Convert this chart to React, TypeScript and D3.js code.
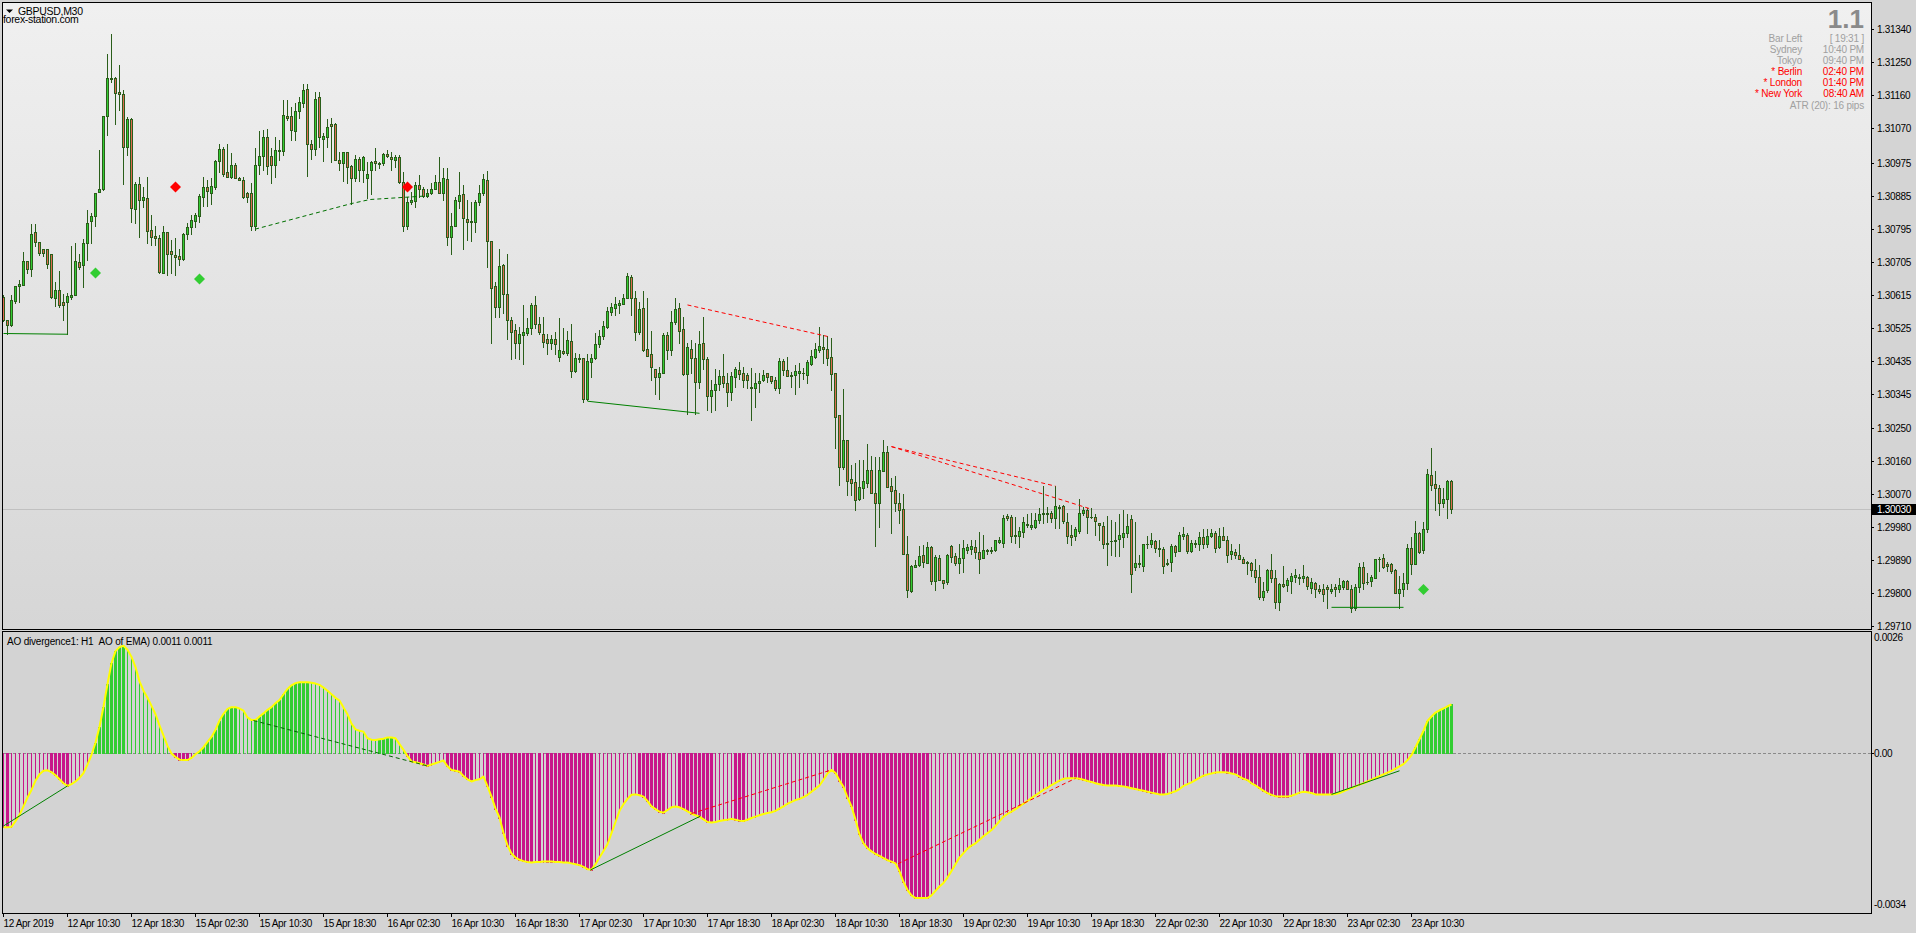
import React from "react";
import * as d3 from "d3";

// Candle values are pips above BASE_PRICE (price = BASE_PRICE + pips / 10000)
const BASE_PRICE = 1.3;

const openPips = [
  60.9,54.7,53.3,59.8,63.8,64.2,70.7,68.6,78.6,76.0,
  73.9,73.9,72.6,60.7,62.9,59.6,59.6,60.9,61.3,70.3,
  69.5,75.5,81.5,83.1,89.6,90.4,110.2,120.6,120.6,116.9,
  116.2,101.9,109.5,85.0,91.7,87.5,87.8,79.3,77.5,76.9,
  67.5,78.6,73.4,72.3,72.2,71.3,78.0,80.0,81.7,83.1,
  88.2,90.8,89.4,91.0,98.0,101.3,94.9,93.7,96.8,93.5,
  92.7,89.3,89.2,80.4,96.8,99.5,104.5,99.4,96.8,101.0,
  100.8,110.2,110.3,106.3,111.6,114.0,117.6,102.8,101.4,115.4,
  104.1,104.5,108.2,108.0,98.3,97.4,100.4,96.6,93.3,98.6,
  95.7,93.5,95.7,98.1,97.6,97.4,99.8,99.2,98.3,99.2,
  92.3,80.4,86.7,87.2,91.6,90.3,88.4,89.3,90.4,92.4,
  89.2,93.0,77.3,80.3,87.2,88.9,82.3,81.7,81.4,86.7,
  89.3,92.8,76.3,63.8,58.2,69.6,61.6,54.7,51.8,48.2,
  50.6,51.1,52.5,58.6,53.4,50.9,49.3,48.3,49.3,44.5,
  46.1,45.6,48.8,40.7,44.2,44.1,32.9,43.2,44.1,47.9,
  50.2,52.7,56.8,58.0,58.8,59.0,60.7,66.2,60.7,51.2,
  58.0,46.8,45.2,41.3,38.9,40.0,50.6,46.3,54.1,58.0,
  52.0,39.8,46.8,44.3,37.7,48.2,43.8,33.9,35.6,37.0,
  39.2,37.5,35.0,39.1,40.8,40.0,39.6,36.4,36.1,37.3,
  38.2,40.0,39.3,38.2,35.9,43.4,40.8,39.6,39.6,40.0,
  40.0,39.6,42.6,44.6,46.4,47.1,46.8,44.4,40.0,28.6,
  14.3,21.7,11.1,10.2,5.7,8.8,10.1,13.6,7.2,4.7,
  13.4,18.5,9.2,8.1,4.5,2.9,-9.2,-19.5,-12.8,-12.4,
  -9.6,-11.7,-7.5,-16.6,-10.3,-16.5,-16.9,-7.1,-9.9,-11.7,
  -10.5,-8.3,-8.1,-7.5,-8.7,-10.5,-8.5,-8.3,-8.3,-6.0,
  -6.4,1.0,0.8,-4.2,-4.5,-3.3,-1.2,-1.9,-1.9,-0.1,
  1.8,1.8,1.8,0.6,3.4,3.8,-0.5,-4.2,-4.5,-3.0,
  1.9,2.6,0.8,0.7,-1.0,-1.6,-6.2,-5.9,-5.7,-5.2,
  -4.6,-3.5,0.1,-12.9,-12.1,-12.6,-6.7,-6.7,-5.7,-7.6,
  -8.1,-11.7,-11.5,-7.2,-8.5,-4.3,-4.2,-8.5,-6.5,-6.5,
  -4.6,-6.7,-4.5,-3.5,-7.4,-4.3,-5.4,-9.4,-8.8,-9.5,
  -10.6,-11.5,-11.7,-13.6,-15.6,-21.0,-19.2,-13.6,-15.8,-22.4,
  -17.4,-17.7,-16.6,-15.6,-15.6,-15.8,-15.6,-18.6,-17.2,-18.8,
  -18.9,-18.3,-19.4,-18.3,-18.9,-18.3,-16.7,-18.8,-24.0,-18.3,
  -13.0,-16.9,-16.8,-15.9,-10.8,-10.3,-12.2,-12.2,-13.8,-20.0,
  -18.9,-17.2,-7.8,-12.0,-3.7,-8.3,-2.4,12.2,9.7,8.8,
  4.5,5.8,10.7,
];

const highPips = [
  61.5,54.7,61.4,64.0,65.5,73.1,70.7,80.8,80.8,76.0,
  74.0,73.9,72.6,65.0,67.9,61.8,62.0,74.8,75.7,72.6,
  76.6,84.6,83.9,89.4,101.0,110.2,127.2,132.7,121.0,124.3,
  117.4,110.1,109.9,92.3,93.7,91.0,93.7,83.2,80.2,77.8,
  80.4,78.6,76.4,77.1,74.0,78.4,81.0,83.2,83.8,89.0,
  93.7,92.8,93.3,98.3,102.8,101.9,102.6,100.1,97.4,93.7,
  93.7,89.6,91.9,101.5,106.3,106.5,106.8,101.7,104.6,103.7,
  114.7,114.7,112.8,113.8,115.6,119.0,119.0,103.7,116.9,116.9,
  105.6,109.4,109.7,108.3,100.5,100.5,100.5,96.9,99.6,99.2,
  99.4,97.8,98.1,101.5,97.8,100.1,101.0,100.5,99.6,99.6,
  94.9,88.2,89.6,92.3,94.2,91.0,90.5,91.9,94.2,99.2,
  96.0,96.0,83.7,88.1,94.9,91.4,87.5,86.9,87.5,91.4,
  94.6,95.3,76.3,65.0,73.9,70.0,72.6,55.5,53.6,52.7,
  58.6,55.0,59.3,61.1,55.5,55.5,50.9,50.4,51.4,55.0,
  52.5,51.6,53.6,45.6,45.4,44.1,45.4,45.4,51.1,51.8,
  54.3,58.2,59.1,60.9,60.0,61.8,67.3,66.8,62.6,59.6,
  62.6,60.7,51.6,41.3,41.8,51.1,51.4,57.1,60.5,59.1,
  55.5,48.3,49.1,48.2,51.6,55.3,44.5,38.1,41.3,40.9,
  45.2,40.0,40.4,41.8,43.2,41.8,40.0,41.4,40.2,40.2,
  40.9,40.2,39.3,38.9,44.1,43.9,44.6,40.5,42.3,42.8,
  41.4,43.7,46.4,48.2,52.8,50.5,50.2,49.6,40.0,28.6,
  35.7,21.7,15.0,15.4,16.3,16.3,20.7,17.4,17.2,17.2,
  21.8,20.1,11.3,11.9,7.2,7.0,-4.4,-12.4,-11.0,-7.2,
  -6.9,-6.0,-7.2,-9.6,-9.6,-16.3,-9.2,-6.9,-9.0,-6.6,
  -5.5,-6.7,-5.5,-5.5,-3.3,-4.2,-8.1,-7.4,-5.4,-4.6,
  1.3,1.6,1.3,0.8,-1.9,0.8,1.7,1.9,2.0,3.1,
  9.2,3.6,2.5,9.2,4.0,4.0,1.8,-1.5,-1.9,5.8,
  3.6,3.1,3.1,1.5,-1.0,-0.6,1.0,-0.1,-0.6,1.5,
  2.6,1.7,1.3,-0.6,-9.7,-6.5,-4.5,-3.7,-5.6,-5.4,
  -7.4,-10.8,-6.5,-6.9,-3.3,-1.9,-3.7,-5.6,-5.6,-3.3,
  -2.4,-2.4,-2.6,-3.0,-2.2,-1.9,-4.5,-6.5,-8.1,-6.5,
  -10.1,-11.2,-11.5,-10.8,-12.4,-16.9,-13.3,-9.2,-13.8,-17.2,
  -12.7,-15.9,-14.5,-13.3,-14.9,-12.4,-15.4,-16.0,-16.9,-17.9,
  -17.4,-17.9,-17.6,-17.6,-16.0,-16.3,-16.3,-17.9,-17.4,-11.9,
  -11.5,-14.5,-15.1,-10.6,-10.1,-9.4,-11.5,-11.9,-13.5,-15.4,
  -14.5,-6.5,-4.6,-0.4,-3.3,-0.6,14.0,19.5,13.3,9.5,
  8.8,11.0,11.0,
];

const lowPips = [
  54.2,50.7,53.0,59.3,59.6,64.2,67.5,66.7,74.8,72.4,
  72.2,68.8,60.6,58.4,58.2,54.7,50.7,60.2,61.3,68.6,
  63.5,70.9,75.5,80.4,89.6,90.1,105.1,119.7,108.0,111.9,
  91.8,99.6,81.4,81.1,77.3,85.5,75.5,75.0,75.0,67.3,
  67.3,67.0,67.3,66.9,69.7,71.1,76.6,78.2,80.0,81.4,
  85.7,85.7,86.4,90.4,95.1,93.9,93.7,93.3,93.3,92.7,
  87.8,86.9,79.1,79.1,94.6,95.5,94.6,91.9,93.7,98.3,
  99.6,109.2,103.7,103.7,109.9,112.8,94.0,98.6,99.6,101.9,
  97.9,101.9,97.8,98.3,95.5,92.5,91.9,86.4,92.6,92.6,
  92.3,87.8,89.0,95.7,96.0,96.9,99.0,95.5,96.4,92.1,
  79.0,79.5,86.4,85.5,88.2,88.2,88.2,89.0,90.4,89.3,
  87.3,75.0,72.6,80.3,85.1,74.1,76.4,76.2,78.7,86.0,
  88.7,69.1,48.3,55.5,55.3,56.4,49.3,43.8,44.1,43.8,
  42.7,50.4,50.9,52.3,50.9,47.3,45.4,46.8,45.4,43.4,
  45.4,45.0,39.1,40.4,43.2,32.2,32.7,38.9,43.8,47.3,
  49.5,52.3,55.9,55.9,56.5,58.9,60.5,55.9,49.1,50.9,
  46.1,44.7,38.3,34.5,32.9,40.0,43.8,45.0,53.4,48.3,
  39.5,29.0,40.0,29.0,35.9,41.3,29.9,29.5,29.9,35.4,
  36.3,31.0,32.7,36.4,38.6,36.4,36.1,27.4,30.7,35.0,
  38.0,37.7,37.3,35.5,34.7,39.6,39.3,36.2,34.5,36.4,
  38.6,37.3,42.3,44.1,45.9,42.8,42.3,35.5,19.7,9.5,
  14.0,6.8,6.8,2.7,5.4,5.9,9.0,7.2,-7.2,-1.9,
  13.4,9.0,-3.5,2.5,-1.0,-9.3,-21.0,-19.6,-13.0,-12.6,
  -12.8,-11.9,-17.4,-19.2,-16.5,-18.7,-17.4,-11.4,-12.4,-14.5,
  -14.2,-9.0,-9.2,-10.5,-14.5,-10.5,-9.2,-9.0,-8.5,-6.4,
  -7.5,-0.1,-6.0,-6.4,-7.4,-4.6,-1.9,-2.6,-2.3,-1.0,
  -0.8,-0.5,-0.5,-2.3,-2.3,-0.8,-6.4,-6.9,-5.5,-3.7,
  1.3,-3.7,0.4,-4.2,-5.4,-7.7,-12.4,-9.7,-9.9,-9.9,
  -7.4,-4.7,-19.7,-13.7,-12.9,-13.9,-7.8,-7.4,-8.8,-9.9,
  -14.5,-12.4,-13.9,-9.9,-8.5,-5.1,-9.0,-8.8,-7.4,-8.3,
  -7.8,-7.4,-4.7,-8.8,-7.8,-5.6,-11.5,-10.6,-10.3,-10.8,
  -11.8,-14.7,-15.4,-16.9,-21.5,-22.0,-19.7,-16.9,-24.0,-24.5,
  -18.3,-19.4,-20.0,-16.9,-17.6,-16.9,-18.8,-20.0,-21.0,-20.0,
  -22.1,-24.0,-20.1,-20.9,-19.7,-18.8,-18.8,-25.1,-24.5,-19.7,
  -18.8,-17.4,-18.1,-15.9,-13.9,-13.1,-13.9,-14.5,-20.1,-24.0,
  -20.9,-19.0,-14.7,-12.1,-9.0,-9.0,-3.3,8.1,2.6,1.3,
  3.5,0.5,1.9,
];

const closePips = [
  54.5,53.1,60.0,64.0,64.4,70.7,68.6,78.2,76.0,72.9,
  72.9,70.0,60.9,62.9,58.7,58.7,61.1,61.4,70.7,69.1,
  75.5,81.2,83.1,89.4,90.5,110.2,120.6,120.3,116.7,116.2,
  101.9,109.5,85.2,91.7,87.3,88.1,79.0,77.3,77.1,67.7,
  78.6,72.5,72.5,71.9,71.3,78.0,80.0,81.8,83.3,88.4,
  90.8,89.7,91.2,98.0,101.3,94.6,93.7,96.8,93.4,92.7,
  88.2,88.1,80.4,96.8,99.5,104.5,96.7,96.8,100.9,100.8,
  110.5,109.9,106.5,111.6,114.2,117.4,102.8,101.4,114.9,104.5,
  104.8,107.4,107.6,98.3,97.4,100.4,96.5,93.3,98.5,95.7,
  99.2,94.6,97.8,97.4,97.1,99.8,99.4,98.5,99.2,92.3,
  80.4,86.9,87.3,91.6,90.3,88.4,89.4,90.5,92.4,89.4,
  93.3,77.3,80.4,87.5,88.7,82.5,81.4,81.4,86.7,89.3,
  93.0,76.2,63.2,58.2,69.3,61.6,54.5,51.4,48.3,50.9,
  51.4,52.5,58.6,53.4,51.2,48.6,48.3,49.3,48.0,46.3,
  45.7,49.1,40.7,44.3,44.0,32.9,43.3,44.2,47.9,50.2,
  52.9,57.1,58.1,58.9,59.2,60.7,66.6,60.7,51.2,57.7,
  46.3,44.8,41.8,38.9,40.2,50.6,46.3,54.0,57.6,51.6,
  39.8,47.1,44.3,37.7,47.9,43.8,33.9,35.6,37.0,39.2,
  37.4,35.0,39.2,41.2,39.8,38.2,38.2,35.9,37.3,37.9,
  39.6,38.9,38.0,35.9,43.4,40.8,39.4,39.4,40.7,40.7,
  40.2,43.0,44.8,46.6,47.5,46.8,44.3,39.9,28.0,14.5,
  21.7,10.7,10.0,5.4,8.9,10.6,13.6,7.4,4.7,13.6,
  18.5,9.0,7.9,4.5,2.7,-9.2,-19.2,-12.6,-12.4,-9.9,
  -11.4,-7.5,-16.6,-10.1,-16.3,-17.2,-9.6,-10.1,-11.7,-10.5,
  -7.8,-7.4,-7.2,-8.7,-10.8,-8.3,-8.3,-8.4,-5.5,-5.5,
  0.4,0.4,-4.5,-4.3,-3.0,-0.5,-1.3,-1.3,-0.1,1.5,
  1.7,1.7,0.6,3.8,3.3,-0.3,-4.3,-4.6,-2.4,2.0,
  2.6,0.8,0.7,-0.2,-1.3,-6.5,-6.5,-5.7,-5.4,-4.2,
  -3.5,-1.6,-14.7,-11.9,-11.9,-6.5,-6.5,-5.6,-7.7,-8.1,
  -12.5,-12.1,-7.2,-8.8,-4.2,-4.0,-8.5,-6.3,-6.2,-4.6,
  -6.7,-4.5,-3.5,-7.7,-4.3,-5.5,-9.5,-8.4,-9.5,-10.6,
  -11.7,-11.7,-13.6,-15.6,-21.0,-19.4,-13.6,-15.8,-22.4,-17.4,
  -18.0,-16.3,-15.4,-15.2,-15.8,-15.4,-18.1,-17.1,-19.0,-19.5,
  -20.3,-19.0,-18.8,-18.9,-17.7,-16.7,-18.8,-24.0,-18.3,-13.0,
  -17.2,-17.0,-15.6,-10.8,-10.7,-12.9,-12.5,-13.9,-20.0,-18.8,
  -17.2,-7.6,-12.0,-3.7,-8.7,-2.4,12.4,9.4,8.8,4.5,
  5.8,10.7,3.0,
];

// AO (of EMA) histogram values, in units of 0.0001
const aoValues = [
  -16.7,-16.7,-16.6,-15.3,-13.9,-12.0,-10.0,-8.3,-6.2,-4.8,
  -4.0,-3.9,-4.3,-5.0,-5.9,-6.8,-7.4,-7.0,-6.4,-5.6,
  -4.5,-2.6,-0.4,2.3,5.9,10.4,15.5,20.2,22.9,23.8,
  24.1,23.2,21.6,19.3,16.1,14.0,12.4,10.6,8.7,6.2,
  3.9,1.6,-0.1,-0.9,-1.5,-1.6,-1.6,-1.1,-0.3,0.4,
  1.3,2.5,3.6,5.2,7.3,8.8,9.9,10.3,10.3,10.0,
  9.5,8.0,7.4,7.4,8.2,8.9,9.7,10.3,11.2,11.9,
  13.2,14.4,15.2,15.7,15.9,15.9,15.9,15.8,15.6,15.3,
  14.7,14.0,13.2,12.4,11.8,10.2,8.7,6.6,5.3,5.0,
  4.8,3.3,3.0,2.9,3.1,3.2,3.5,3.5,3.3,2.0,
  0.7,-0.7,-1.9,-2.1,-2.3,-2.6,-2.9,-2.6,-2.3,-2.0,
  -1.7,-3.0,-3.8,-4.0,-4.2,-5.2,-5.9,-6.4,-6.1,-5.9,
  -5.3,-7.5,-9.8,-12.5,-14.5,-18.0,-20.8,-22.6,-23.5,-24.0,
  -24.3,-24.5,-24.6,-24.5,-24.5,-24.4,-24.4,-24.4,-24.5,-24.5,
  -24.6,-24.6,-24.8,-25.0,-25.2,-25.6,-26.1,-26.2,-25.0,-23.5,
  -22.0,-20.5,-18.0,-15.5,-13.0,-11.5,-10.3,-9.4,-9.3,-9.5,
  -9.8,-10.8,-12.0,-12.6,-13.2,-13.4,-12.8,-12.2,-12.0,-12.2,
  -12.6,-13.1,-13.6,-14.0,-14.3,-14.9,-15.5,-15.6,-15.5,-15.3,
  -15.1,-15.0,-14.8,-15.0,-15.2,-15.3,-15.0,-14.6,-14.3,-14.0,
  -13.7,-13.5,-13.3,-13.0,-12.5,-12.0,-11.4,-11.0,-10.6,-10.3,
  -9.9,-9.4,-8.7,-8.0,-7.3,-6.0,-4.6,-3.8,-4.5,-6.2,
  -7.6,-10.0,-12.0,-15.0,-18.3,-20.3,-21.4,-22.1,-22.7,-23.1,
  -23.6,-24.1,-24.4,-24.8,-26.6,-29.0,-30.8,-32.0,-32.6,-32.6,
  -32.6,-32.6,-32.0,-31.0,-30.0,-29.2,-28.0,-26.5,-25.0,-23.5,
  -22.5,-21.5,-20.8,-20.3,-19.5,-18.7,-18.0,-17.3,-16.4,-15.3,
  -14.3,-13.7,-13.2,-12.6,-12.0,-11.4,-10.8,-10.1,-9.5,-8.9,
  -8.3,-7.8,-7.2,-6.7,-6.2,-5.8,-5.7,-5.7,-5.7,-5.8,
  -6.0,-6.3,-6.5,-6.8,-7.0,-7.2,-7.3,-7.3,-7.3,-7.4,
  -7.5,-7.7,-7.9,-8.1,-8.3,-8.5,-8.7,-8.9,-9.1,-9.3,
  -9.3,-9.2,-8.9,-8.6,-8.1,-7.4,-7.0,-6.6,-6.1,-5.6,
  -5.1,-4.8,-4.6,-4.4,-4.3,-4.3,-4.4,-4.6,-4.8,-5.3,
  -5.8,-6.1,-6.8,-7.3,-7.9,-8.5,-9.0,-9.4,-9.7,-9.8,
  -9.8,-9.8,-9.6,-9.3,-8.9,-8.7,-8.8,-9.0,-9.3,-9.3,
  -9.3,-9.3,-9.3,-9.2,-9.0,-8.6,-8.2,-7.9,-7.5,-7.1,
  -6.8,-6.4,-6.0,-5.6,-5.2,-4.8,-4.4,-4.0,-3.5,-3.0,
  -2.5,-1.6,-0.5,1.3,3.1,5.0,7.2,8.2,9.1,9.6,
  10.0,10.5,10.9,
];

const timeLabels = [
  "12 Apr 2019","12 Apr 10:30","12 Apr 18:30","15 Apr 02:30","15 Apr 10:30","15 Apr 18:30",
  "16 Apr 02:30","16 Apr 10:30","16 Apr 18:30","17 Apr 02:30","17 Apr 10:30","17 Apr 18:30",
  "18 Apr 02:30","18 Apr 10:30","18 Apr 18:30","19 Apr 02:30","19 Apr 10:30","19 Apr 18:30",
  "22 Apr 02:30","22 Apr 10:30","22 Apr 18:30","23 Apr 02:30","23 Apr 10:30",
];
const BARS_PER_LABEL = 16;

const priceTickLabels = [
  "1.31340","1.31250","1.31160","1.31070","1.30975","1.30885","1.30795","1.30705","1.30615",
  "1.30525","1.30435","1.30345","1.30250","1.30160","1.30070","1.29980","1.29890","1.29800","1.29710",
];
const CURRENT_PRICE = 1.3003;
const aoTickLabels = [
  { v: 0.0026, t: "0.0026" },
  { v: 0, t: "0.00" },
  { v: -0.0034, t: "-0.0034" },
];

// signal markers: [bar index, pips]
const greenMarkers: [number, number][] = [[23, 67.4], [49, 65.8], [355, -19.0]];
const redMarkers: [number, number][] = [[43, 90.9], [101, 90.9]];

// divergence lines on price: points [bar index, pips]
const priceDivLines = [
  { pts: [[0, 50.9], [16, 50.7]], color: "#008000", dash: false },
  { pts: [[62.9, 79.4], [87, 86.4], [91.6, 87.5], [106, 88.5]], color: "#007000", dash: true },
  { pts: [[146, 32.4], [174, 29.1]], color: "#008000", dash: false },
  { pts: [[171, 58.7], [206, 50.1]], color: "#ff0000", dash: true },
  { pts: [[222, 20.0], [263, 9.2]], color: "#ff0000", dash: true },
  { pts: [[222, 20.0], [272, 2.9]], color: "#ff0000", dash: true },
  { pts: [[332, -23.9], [350, -23.9]], color: "#008000", dash: false },
];
// divergence lines on AO: points [bar index, AO in 0.0001]
const aoDivLines = [
  { pts: [[0, -16.4], [16, -7.4]], color: "#008000", dash: false },
  { pts: [[62.5, 7.3], [106, -2.9]], color: "#006400", dash: true },
  { pts: [[146.7, -26.3], [174.2, -14.2]], color: "#008000", dash: false },
  { pts: [[172, -13.6], [207, -3.8]], color: "#ff0000", dash: true },
  { pts: [[223.6, -24.9], [268, -5.7]], color: "#ff0000", dash: true },
  { pts: [[332, -9.3], [349, -4.0]], color: "#008000", dash: false },
];

const infoRows = [
  { l: "Bar Left", r: "[ 19:31 ]", c: "#a0a0a0" },
  { l: "Sydney", r: "10:40 PM", c: "#a0a0a0" },
  { l: "Tokyo", r: "09:40 PM", c: "#a0a0a0" },
  { l: "* Berlin", r: "02:40 PM", c: "#ff0000" },
  { l: "* London", r: "01:40 PM", c: "#ff0000" },
  { l: "* New York", r: "08:40 AM", c: "#ff0000" },
];

const SUB_TITLE = "AO divergence1: H1\u00a0\u00a0AO of EMA) 0.0011 0.0011";

const FONT = "'Liberation Sans', Arial, Helvetica, sans-serif";
const WICK = "#2a5e1a";
const BULL = "#33cc33";
const BEAR = "#dc6b50";
const AO_GREEN = "#32cd32";
const AO_MAG = "#c8168a";

export default function App() {
  const W = 1916, H = 933;
  const N = closePips.length;
  const L = 3, R = 1871;
  const MT = 3, MB = 629, ST = 632, SB = 913;

  const xS = d3.scaleLinear().domain([0, N - 1]).range([3.5, 3.5 + 4 * (N - 1)]);
  const yM = d3.scaleLinear().domain([1.2971, 1.3134]).range([626, 29.3]);
  const yA = d3.scaleLinear().domain([-0.0034, 0.0026]).range([904.3, 637.3]);
  const P = (v: number) => BASE_PRICE + v / 10000;
  const A = (v: number) => v / 10000;

  const priceLine = d3.line<number[]>().x((d) => xS(d[0])).y((d) => yM(P(d[1])));
  const aoLineGen = d3.line<number[]>().x((d) => xS(d[0])).y((d) => yA(A(d[1])));
  const aoPath = d3.line<number>().x((_, i) => xS(i)).y((v) => yA(A(v)))(aoValues) || "";

  const y0 = Math.round(yA(0));

  return (
    <div style={{ position: "absolute", left: 0, top: 0, width: W, height: H }}>
      <svg width={W} height={H} style={{ display: "block", fontFamily: FONT }}>
        <defs>
          <linearGradient id="mainbg" x1="0" y1="0" x2="0" y2="1">
            <stop offset="0" stopColor="#f0f0f0" />
            <stop offset="1" stopColor="#d6d6d6" />
          </linearGradient>
          <clipPath id="mainClip"><rect x={L} y={MT} width={R - L} height={MB - MT} /></clipPath>
          <clipPath id="subClip"><rect x={L} y={ST} width={R - L} height={SB - ST} /></clipPath>
        </defs>
        <rect x={0} y={0} width={W} height={H} fill="#d4d4d4" />
        {/* main panel */}
        <rect x={L} y={MT} width={R - L} height={MB - MT} fill="url(#mainbg)" />
        <line x1={L} x2={R} y1={Math.round(yM(CURRENT_PRICE)) + 0.5} y2={Math.round(yM(CURRENT_PRICE)) + 0.5} stroke="#c0c0c0" />
        <g clipPath="url(#mainClip)">
          {closePips.map((c, i) => {
            const o = openPips[i], h = highPips[i], l = lowPips[i];
            const cx = xS(i);
            const yo = yM(P(o)), yc = yM(P(c));
            const top = Math.round(Math.min(yo, yc));
            const bot = Math.round(Math.max(yo, yc));
            const yh = Math.round(yM(P(h)));
            const yl = Math.round(yM(P(l)));
            const bull = c >= o;
            return (
              <g key={i}>
                <line x1={cx} x2={cx} y1={yh} y2={yl + 1} stroke={WICK} />
                {bot - top >= 2 ? (
                  <rect x={cx - 1} y={top + 0.5} width={2} height={bot - top} fill={bull ? BULL : BEAR} stroke={WICK} />
                ) : (
                  <rect x={cx - 1.5} y={top} width={3} height={Math.max(1, bot - top + 1)} fill={WICK} />
                )}
              </g>
            );
          })}
          {priceDivLines.map((d, k) => (
            <path key={k} d={priceLine(d.pts) || ""} fill="none" stroke={d.color} strokeWidth={1}
              strokeDasharray={d.dash ? "4,3" : undefined} />
          ))}
          {greenMarkers.map(([i, v], k) => {
            const cx = xS(i), cy = yM(P(v)), s = 5.5;
            return <path key={k} d={`M${cx},${cy - s}L${cx + s},${cy}L${cx},${cy + s}L${cx - s},${cy}Z`} fill="#32cd32" />;
          })}
          {redMarkers.map(([i, v], k) => {
            const cx = xS(i), cy = yM(P(v)), s = 5.5;
            return <path key={k} d={`M${cx},${cy - s}L${cx + s},${cy}L${cx},${cy + s}L${cx - s},${cy}Z`} fill="#ff0000" />;
          })}
        </g>
        <rect x={L - 0.5} y={MT - 0.5} width={R - L + 1} height={MB - MT + 1} fill="none" stroke="#000" />

        {/* header texts */}
        <path d="M6,9.5L13,9.5L9.5,13Z" fill="#000" />
        <text x={18} y={14.5} fontSize={10.5} letterSpacing={-0.3} fill="#000">GBPUSD,M30</text>
        <text x={3} y={23} fontSize={10.5} letterSpacing={-0.3} fill="#000">forex-station.com</text>

        <text x={1864} y={28.3} fontSize={26} fontWeight="bold" textAnchor="end" fill="#8a8a8a">1.1</text>
        {infoRows.map((r, k) => (
          <g key={k} fontSize={10} letterSpacing={-0.2}>
            <text x={1802} y={42 + k * 11} textAnchor="end" fill={r.c}>{r.l}</text>
            <text x={1864} y={42 + k * 11} textAnchor="end" fill={r.c}>{r.r}</text>
          </g>
        ))}
        <text x={1864} y={108.5} fontSize={10} letterSpacing={-0.2} textAnchor="end" fill="#a0a0a0">ATR (20): 16 pips</text>

        {/* price axis */}
        {priceTickLabels.map((t) => {
          const yy = Math.round(yM(parseFloat(t))) + 0.5;
          return (
            <g key={t}>
              <line x1={R} x2={R + 3} y1={yy} y2={yy} stroke="#000" />
              <text x={1877} y={yy + 3.5} fontSize={10} letterSpacing={-0.3} fill="#000">{t}</text>
            </g>
          );
        })}
        <rect x={1872} y={Math.round(yM(CURRENT_PRICE)) - 5} width={44} height={11} fill="#000" />
        <text x={1877} y={Math.round(yM(CURRENT_PRICE)) + 4} fontSize={10} letterSpacing={-0.3} fill="#fff">
          {CURRENT_PRICE.toFixed(5)}
        </text>

        {/* AO sub window */}
        <rect x={L} y={ST} width={R - L} height={SB - ST} fill="#d3d3d3" />
        <g clipPath="url(#subClip)">
          <line x1={L} x2={R} y1={y0 + 0.5} y2={y0 + 0.5} stroke="#8a8a8a" strokeDasharray="3,2" />
          {aoValues.map((v, i) => {
            const cx = xS(i);
            const yv = Math.round(yA(A(v)));
            const pos = v >= 0;
            const col = pos ? AO_GREEN : AO_MAG;
            const filled = i > 0 && Math.abs(v) >= Math.abs(aoValues[i - 1]);
            const t = Math.min(yv, y0), b = Math.max(yv, y0);
            return filled ? (
              <rect key={i} x={cx - 1.5} y={t} width={3} height={Math.max(1, b - t + 1)} fill={col} />
            ) : (
              <line key={i} x1={cx} x2={cx} y1={t} y2={b + 1} stroke={col} />
            );
          })}
          <path d={aoPath} fill="none" stroke="#ffff00" strokeWidth={2} strokeLinejoin="round" />
          {aoDivLines.map((d, k) => (
            <path key={k} d={aoLineGen(d.pts) || ""} fill="none" stroke={d.color} strokeWidth={1}
              strokeDasharray={d.dash ? "4,3" : undefined} />
          ))}
        </g>
        <rect x={L - 0.5} y={ST - 0.5} width={R - L + 1} height={SB - ST + 1} fill="none" stroke="#000" />
        <text x={7} y={644.5} fontSize={10} letterSpacing={-0.2} fill="#000">{SUB_TITLE}</text>
        {aoTickLabels.map((t) => {
          const yy = Math.round(yA(t.v)) + 0.5;
          return (
            <g key={t.t}>
              {t.v === 0 && <line x1={R} x2={R + 3} y1={yy} y2={yy} stroke="#000" />}
              <text x={1874} y={yy + 3.5} fontSize={10} letterSpacing={-0.3} fill="#000">{t.t}</text>
            </g>
          );
        })}

        {/* time axis */}
        {timeLabels.map((t, k) => {
          const xx = Math.round(xS(k * BARS_PER_LABEL) - 0.5) + 0.5;
          return (
            <g key={t}>
              <line x1={xx} x2={xx} y1={SB} y2={SB + 4} stroke="#000" />
              <text x={xx} y={926.5} fontSize={10} letterSpacing={-0.35} fill="#000">{t}</text>
            </g>
          );
        })}
      </svg>
    </div>
  );
}
